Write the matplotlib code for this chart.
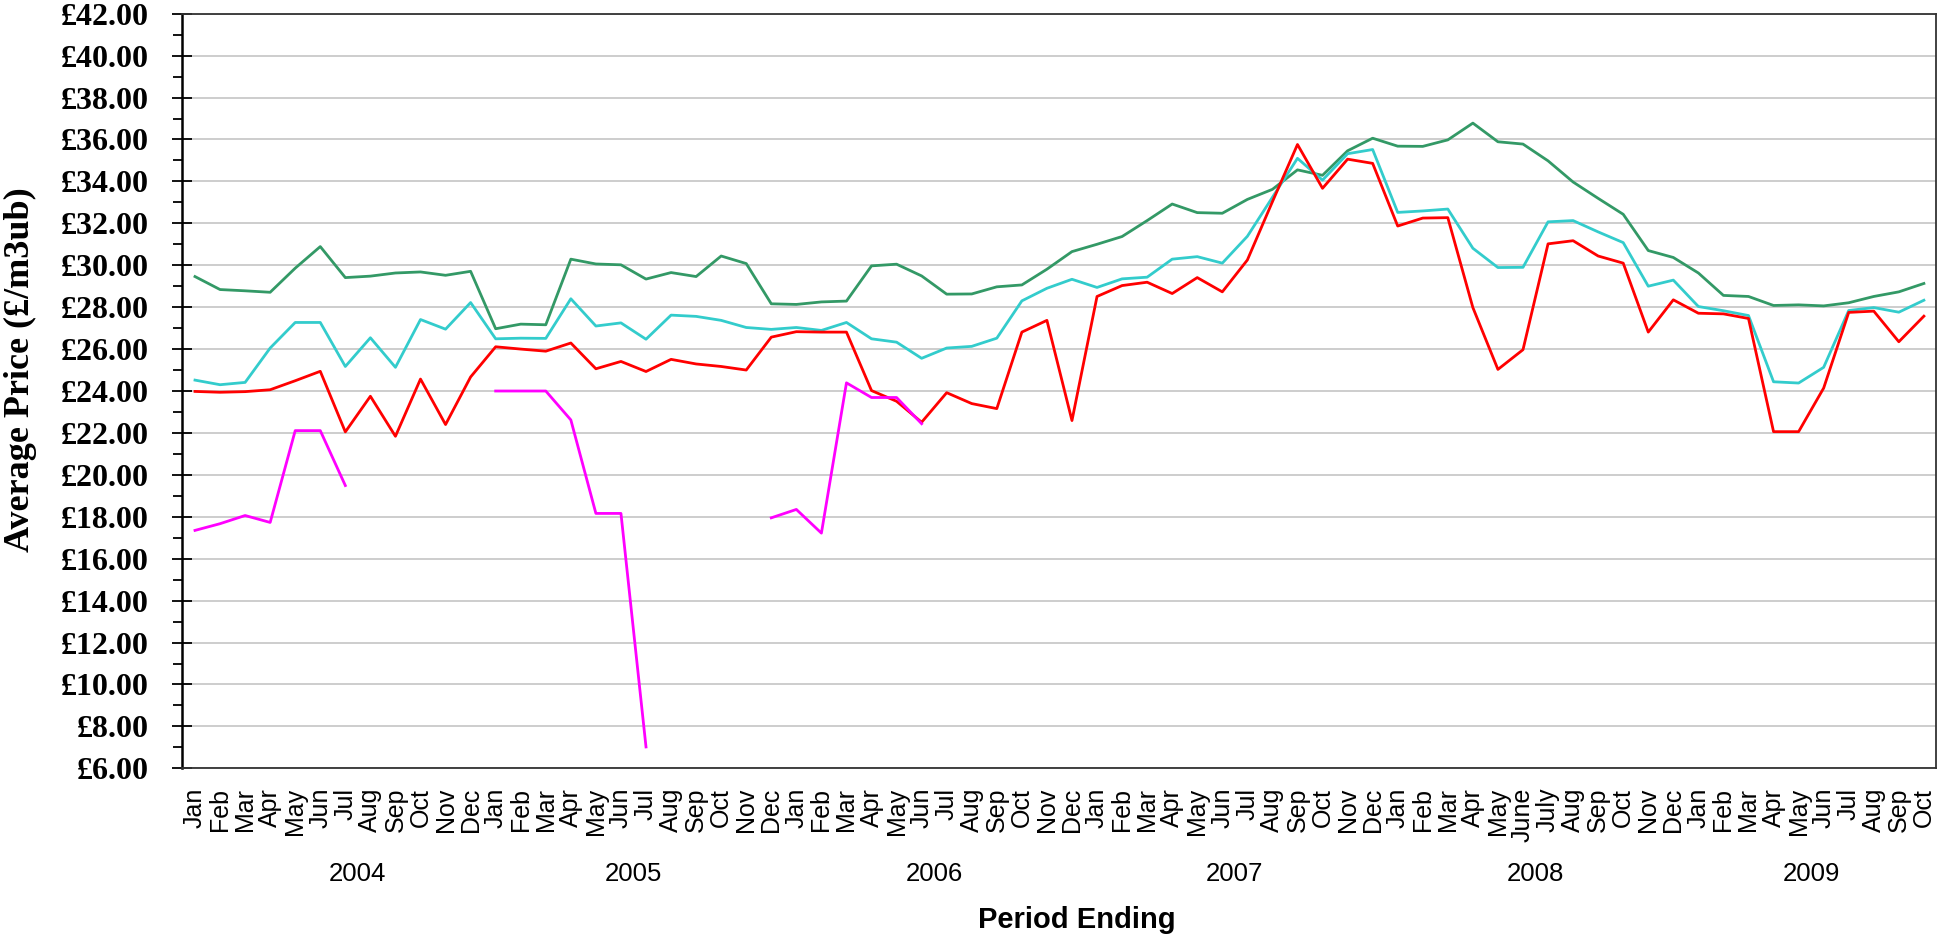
import numpy as np
import matplotlib
matplotlib.use("Agg")
import matplotlib.pyplot as plt
from matplotlib.ticker import MultipleLocator, FuncFormatter
from matplotlib.transforms import blended_transform_factory

# month labels, Jan 2004 - Oct 2009
months_std = ["Jan", "Feb", "Mar", "Apr", "May", "Jun", "Jul", "Aug", "Sep", "Oct", "Nov", "Dec"]
months_2008 = ["Jan", "Feb", "Mar", "Apr", "May", "June", "July", "Aug", "Sep", "Oct", "Nov", "Dec"]
month_labels = months_std * 4 + months_2008 + months_std[:10]

years = ["2004", "2005", "2006", "2007", "2008", "2009"]
year_pos = [6.5, 17.5, 29.5, 41.5, 53.5, 64.5]

green = [29.46, 28.84, 28.78, 28.71, 29.86, 30.89, 29.41, 29.48, 29.63, 29.68, 29.52, 29.71,
         26.97, 27.19, 27.16, 30.29, 30.06, 30.02, 29.34, 29.65, 29.46, 30.44, 30.08, 28.16,
         28.13, 28.25, 28.29, 29.97, 30.05, 29.49, 28.62, 28.63, 28.97, 29.06, 29.81, 30.65,
         31.00, 31.37, 32.13, 32.92, 32.51, 32.48, 33.14, 33.62, 34.55, 34.29, 35.46, 36.06,
         35.68, 35.67, 35.98, 36.78, 35.89, 35.78, 34.98, 33.97, 33.19, 32.43, 30.70, 30.37,
         29.63, 28.56, 28.51, 28.08, 28.11, 28.06, 28.21, 28.51, 28.73, 29.13]

cyan = [24.52, 24.30, 24.41, 26.05, 27.27, 27.27, 25.17, 26.54, 25.13, 27.41, 26.95, 28.22,
        26.49, 26.52, 26.51, 28.40, 27.10, 27.25, 26.47, 27.62, 27.56, 27.37, 27.03, 26.94,
        27.03, 26.89, 27.27, 26.49, 26.33, 25.56, 26.05, 26.13, 26.52, 28.30, 28.90, 29.33,
        28.94, 29.35, 29.43, 30.29, 30.41, 30.10, 31.38, 33.24, 35.10, 34.06, 35.32, 35.52,
        32.52, 32.59, 32.68, 30.81, 29.89, 29.90, 32.07, 32.13, 31.59, 31.08, 29.00, 29.29,
        28.03, 27.83, 27.60, 24.44, 24.38, 25.13, 27.84, 27.98, 27.76, 28.33]

red = [23.98, 23.94, 23.97, 24.06, 24.49, 24.94, 22.05, 23.75, 21.84, 24.57, 22.40, 24.67,
       26.11, 26.00, 25.90, 26.29, 25.06, 25.41, 24.93, 25.51, 25.29, 25.17, 25.00, 26.57,
       26.83, 26.81, 26.81, 24.02, 23.51, 22.51, 23.92, 23.40, 23.16, 26.81, 27.37, 22.59,
       28.51, 29.03, 29.19, 28.65, 29.41, 28.73, 30.25, 33.03, 35.76, 33.67, 35.06, 34.86,
       31.87, 32.25, 32.27, 27.98, 25.03, 25.97, 31.02, 31.17, 30.44, 30.10, 26.81, 28.35,
       27.71, 27.68, 27.46, 22.06, 22.06, 24.14, 27.75, 27.81, 26.35, 27.57]

nan = np.nan
magenta = [17.35, 17.67, 18.06, 17.73, 22.11, 22.11, 19.49, nan, nan, nan, nan, nan,
           24.00, 24.00, 24.00, 22.62, 18.16, 18.16, 7.02, nan, nan, nan, nan, 17.95,
           18.35, 17.22, 24.39, 23.69, 23.69, 22.44] + [nan] * 40

x = np.arange(len(month_labels))

fig = plt.figure(figsize=(19.37, 9.38), dpi=100)
ax = fig.add_axes([0.0942, 0.1809, 0.9055, 0.8045])

ax.plot(x, green, color="#339966", linewidth=2.0)
ax.plot(x, cyan, color="#33CCCC", linewidth=2.0)
ax.plot(x, red, color="#FF0000", linewidth=2.0)
ax.plot(x, magenta, color="#FF00FF", linewidth=2.0)

ax.set_xlim(-0.5, len(month_labels) - 0.5)
ax.set_ylim(6, 42)

# y axis: pound labels, bold serif
ax.yaxis.set_major_locator(MultipleLocator(2))
ax.yaxis.set_minor_locator(MultipleLocator(1))
ax.yaxis.set_major_formatter(FuncFormatter(lambda v, p: "£%.2f" % v))
ax.tick_params(axis="y", which="major", direction="inout", length=14.4, width=1.3, pad=17)
ax.tick_params(axis="y", which="minor", direction="out", length=6.8, width=1.3)
for lab in ax.get_yticklabels():
    lab.set_family("Liberation Serif")
    lab.set_fontweight("bold")
    lab.set_fontsize(23)

ax.set_xticks(x)
ax.set_xticklabels(month_labels, rotation=90, family="Liberation Sans", fontsize=18)
ax.tick_params(axis="x", length=0, pad=14)

ax.grid(axis="y", color="#c0c0c0", linewidth=1.1)
ax.set_axisbelow(True)
for side in ["top", "right", "bottom"]:
    ax.spines[side].set_color("#333333")
    ax.spines[side].set_linewidth(1.3)
ax.spines["left"].set_color("black")
ax.spines["left"].set_linewidth(1.8)

# year group labels under the months
trans = blended_transform_factory(ax.transData, fig.transFigure)
for yr, pos in zip(years, year_pos):
    ax.text(pos, 0.068, yr, transform=trans, ha="center", va="center",
            family="Liberation Sans", fontsize=18.5)

fig.text(1077 / 1937, 0.019, "Period Ending", ha="center", va="center",
         family="Liberation Sans", fontweight="bold", fontsize=21)
fig.text(0.0105, 1 - 370 / 938, "Average Price (£/m3ub)", rotation=90, ha="center", va="center",
         family="Liberation Serif", fontweight="bold", fontsize=26)

fig.savefig("out.png", dpi=100)
